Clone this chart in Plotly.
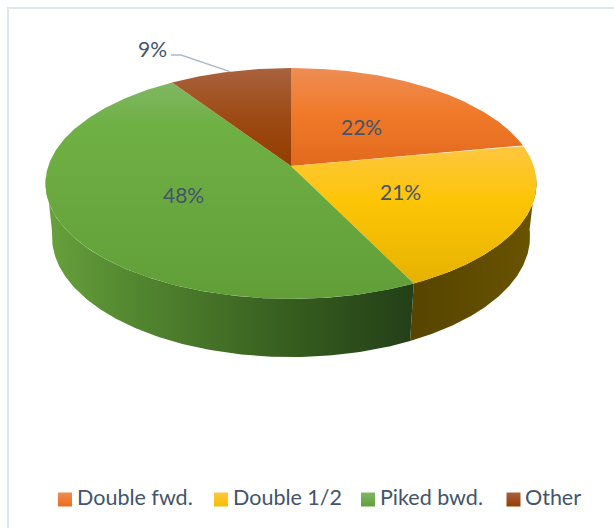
import numpy as np
import plotly.graph_objects as go

categories = ["Double fwd.", "Double 1/2", "Piked bwd.", "Other"]
shares = [22.0, 20.8, 47.9, 9.3]

# Styling and layout, not data
top_gradients = [
    [[0, "#e2691d"], [0.55, "#f07a2a"], [1, "#ee8d55"]],
    [[0, "#e5b200"], [0.6, "#fdc506"], [1, "#fdc73f"]],
    [[0, "#619e38"], [0.8, "#6fb044"], [1, "#80b663"]],
    [[0, "#923c00"], [0.5, "#9e4a14"], [1, "#a9623f"]],
]
wall_gradients = {
    1: [[0, "#564400"], [1, "#6a5400"]],
    2: [[0, "#68a13c"], [0.2, "#568b32"], [0.65, "#375e1f"], [1, "#233f18"]],
}
swatch_top = ["#f08a52", "#fdc73f", "#80b663", "#a9623f"]
swatch_bottom = ["#ec6d1d", "#f5bf00", "#639f3a", "#953e00"]
label_radius = [0.48, 0.49, 0.49]
legend_x = [65, 221, 368, 513.5]
legend_text_x = [75, 231, 378, 523]
legend_y = 499.5
legend_text_y = 497
INK = "#44546a"
FONT = "Lato, Carlito, sans-serif"
CX, CY = 291, 166
A, B, P = 242.7, 112.8, 0.151   # top face: perspective ellipse
Q, C = 0.0266, 54.5             # lower rim: perspective and depth


def project(theta_deg, r=1.0, z=0.0):
    t = np.radians(theta_deg)
    u, v = r * np.sin(t), r * np.cos(t)
    w = 1 + P * v + Q * z
    return CX + A * u / w, CY + (-B * v + C * z) / w


edges = np.concatenate([[0], np.cumsum(shares)]) * 3.6
fig = go.Figure()

# Visible outer walls, drawn under the top faces
wall_limits = {1: (95, edges[2]), 2: (edges[2], 265)}
for i, (a0, a1) in wall_limits.items():
    th = np.linspace(a0, a1, 160)
    xt, yt = project(th)
    xb, yb = project(th[::-1], z=1)
    xs, ys = np.r_[xt, xb, xt[0]], np.r_[yt, yb, yt[0]]
    fig.add_trace(go.Scatter(
        x=xs, y=ys, mode="lines", line=dict(width=0), fill="toself",
        fillgradient=dict(type="horizontal", colorscale=wall_gradients[i]),
        hoverinfo="skip", showlegend=False))

# Top face wedges
for i, name in enumerate(categories):
    th = np.linspace(edges[i], edges[i + 1], 200)
    xa, ya = project(th)
    xs, ys = np.r_[CX, xa, CX], np.r_[CY, ya, CY]
    fig.add_trace(go.Scatter(
        x=xs, y=ys, mode="lines", line=dict(width=0), fill="toself", name=name,
        fillgradient=dict(type="vertical", colorscale=top_gradients[i]),
        hoverinfo="skip", showlegend=False))

# Leader for the outside label
mid_other = (edges[3] + edges[4]) / 2
lx, ly = project(mid_other)
fig.add_trace(go.Scatter(
    x=[lx, 181, 171], y=[ly, 55, 55], mode="lines",
    line=dict(color="#adb9ca", width=1.5), hoverinfo="skip", showlegend=False))

# Legend swatches
for i, name in enumerate(categories):
    fig.add_trace(go.Scatter(
        x=[legend_x[i]], y=[legend_y], mode="markers",
        marker=dict(symbol="square", size=14, color=swatch_top[i],
                    gradient=dict(type="vertical", color=swatch_bottom[i]),
                    line=dict(width=0)),
        hoverinfo="skip", showlegend=False))

annotations = []
for i, s in enumerate(shares):
    mid = (edges[i] + edges[i + 1]) / 2
    if i == 3:
        x, y = 152, 48.5
    else:
        x, y = project(mid, r=label_radius[i])
    annotations.append(dict(x=x, y=y, text=f"{round(s)}%", showarrow=False, xanchor="center",
                            yanchor="middle", font=dict(family=FONT, size=21, color=INK)))
for i, name in enumerate(categories):
    annotations.append(dict(x=legend_text_x[i], y=legend_text_y, text=name, showarrow=False,
                            xanchor="left", yanchor="middle",
                            font=dict(family=FONT, size=21.5, color=INK)))

fig.update_layout(
    width=614, height=528, margin=dict(l=0, r=0, t=0, b=0),
    paper_bgcolor="white", plot_bgcolor="white", showlegend=False,
    xaxis=dict(range=[0, 614], visible=False, fixedrange=True),
    yaxis=dict(range=[528, 0], visible=False, fixedrange=True),
    annotations=annotations,
    shapes=[dict(type="rect", x0=8, y0=8, x1=640, y1=560, layer="below",
                 line=dict(color="#dfe5ea", width=2), fillcolor="rgba(0,0,0,0)")],
)
fig.write_html("out.html", config=dict(displayModeBar=False),
               post_script="document.body.style.margin='0';document.body.style.overflow='hidden';")
